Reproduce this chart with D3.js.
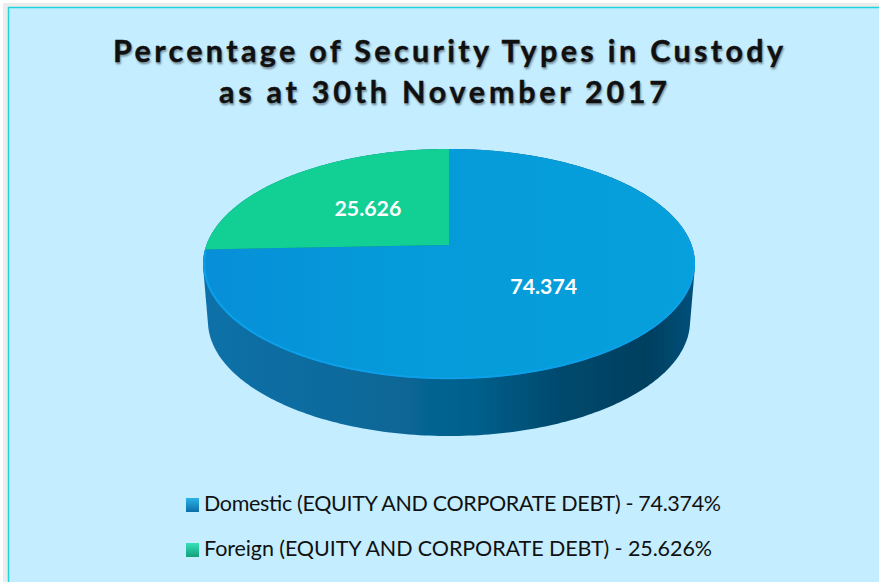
<!DOCTYPE html>
<html>

<head>
    <meta charset="utf-8">
    <title>Percentage of Security Types in Custody</title>
    <script src="https://d3js.org/d3.v7.min.js"></script>
    <style>
        html, body { margin: 0; padding: 0; background: #fff; overflow: hidden; }
        text { font-family: Lato, "Open Sans", sans-serif; }
    </style>
</head>

<body>
    <svg width="879" height="582"></svg>
    <script>
        // Data
        var titleLines = ["Percentage of Security Types in Custody", "as at 30th November 2017"];
        var categories = ["Domestic (EQUITY AND CORPORATE DEBT)", "Foreign (EQUITY AND CORPORATE DEBT)"];
        var values = [74.374, 25.626];
        var sliceColors = ["#059bd9", "#12cf93"];

        var svg = d3.select("svg");
        var defs = svg.append("defs");

        // Gradients
        function gradient(id, stops, vertical) {
            var g = defs.append("linearGradient").attr("id", id)
                .attr("x1", 0).attr("y1", 0)
                .attr("x2", vertical ? 0 : 1).attr("y2", vertical ? 1 : 0);
            stops.forEach(function (s) {
                g.append("stop").attr("offset", s[0]).attr("stop-color", s[1]);
            });
        }
        gradient("wall", [[0, "#0f70a8"], [0.3, "#0a6a9c"], [0.55, "#04608c"], [0.72, "#024a6e"], [0.9, "#023f5f"], [1, "#04507a"]]);
        gradient("top0", [[0, "#078fd8"], [0.4, "#059ad9"], [1, "#06a0dc"]]);
        gradient("key0", [[0, "#2bb4e8"], [1, "#0b6ea6"]], true);
        gradient("key1", [[0, "#35e0b8"], [1, "#12a07c"]], true);
        defs.append("filter").attr("id", "soft")
            .append("feGaussianBlur").attr("stdDeviation", 0.7);

        // Panel
        svg.append("rect").attr("x", 3).attr("y", 3).attr("width", 880).attr("height", 590).attr("fill", "#ececec");
        svg.append("rect").attr("x", 8.5).attr("y", 7.5).attr("width", 880).attr("height", 590)
            .attr("fill", "#c4edff").attr("stroke", "#22d3dd").attr("stroke-width", 1.5);

        // Title
        var titleWidths = [670, 448];
        svg.selectAll(".titolo")
            .data(titleLines)
            .enter()
            .append("text")
            .attr("class", "titolo")
            .attr("x", function (d, i) { return i == 0 ? 448 : 443; })
            .attr("y", function (d, i) { return 62 + i * 41; })
            .attr("text-anchor", "middle")
            .attr("font-size", 30.5)
            .attr("font-weight", 700)
            .attr("textLength", function (d, i) { return titleWidths[i]; })
            .attr("lengthAdjust", "spacing")
            .attr("fill", "#111")
            .attr("stroke", "#111")
            .attr("stroke-width", 0.4)
            .style("text-shadow", "1px 2px 2px rgba(0,0,0,0.35)")
            .text(function (d) { return d; });

        // Perspective disc: angle clockwise from 12 o'clock, r 0..1, level 0 top / 1 bottom
        var cx = 449, cy = 245, halfW = 242.6, halfH = 111.9, k = 0.165, depth = 57, shrink = 0.98;
        function project(a, r, level) {
            var u = r * Math.sin(a), v = r * Math.cos(a), w = 1 + k * v;
            var s = level ? shrink : 1;
            return [cx + s * halfW * u / w, cy - halfH * v / w + level * depth];
        }

        var pie = d3.pie().sort(null);
        var slices = pie(values);
        var line = d3.line().curve(d3.curveLinear);

        // Side wall is the outline of the top and bottom rings
        var ring = d3.range(0, 360, 1).map(function (d) { return d * Math.PI / 180; });
        var hull = d3.polygonHull(
            ring.map(function (a) { return project(a, 1, 0); })
                .concat(ring.map(function (a) { return project(a, 1, 1); }))
        );
        svg.append("path").attr("d", line(hull) + "Z").attr("fill", "url(#wall)").attr("filter", "url(#soft)");

        // Top face
        svg.selectAll(".fetta")
            .data(slices)
            .enter()
            .append("path")
            .attr("class", "fetta")
            .attr("fill", function (d, i) { return i == 0 ? "url(#top0)" : sliceColors[i]; })
            .attr("d", function (d) {
                var n = Math.ceil((d.endAngle - d.startAngle) * 60);
                var pts = [project(0, 0, 0)];
                d3.range(n + 1).forEach(function (j) {
                    pts.push(project(d.startAngle + (d.endAngle - d.startAngle) * j / n, 1, 0));
                });
                return line(pts) + "Z";
            });

        // Lighter bevel along the front rim
        var rim = d3.range(80, 268, 1).map(function (d) { return project(d * Math.PI / 180, 0.995, 0); });
        svg.append("path")
            .attr("d", line(rim))
            .attr("fill", "none")
            .attr("stroke", "#0a9fe8")
            .attr("stroke-width", 2)
            .attr("filter", "url(#soft)");

        // Data labels
        var labelR = [0.51, 0.49];
        svg.selectAll(".etichetta")
            .data(slices)
            .enter()
            .append("text")
            .attr("class", "etichetta")
            .attr("x", function (d, i) { return project((d.startAngle + d.endAngle) / 2, labelR[i], 0)[0]; })
            .attr("y", function (d, i) { return project((d.startAngle + d.endAngle) / 2, labelR[i], 0)[1]; })
            .attr("dy", "0.35em")
            .attr("text-anchor", "middle")
            .attr("font-size", 21.3)
            .attr("font-weight", 700)
            .attr("fill", "#fff")
            .text(function (d) { return d.value.toFixed(3); });

        // Legend
        var legendY = d3.scalePoint().domain(categories).range([505, 550]);
        var legendWidths = [517, 508];
        var legend = svg.selectAll(".voce")
            .data(categories)
            .enter()
            .append("g")
            .attr("class", "voce")
            .attr("transform", function (d) { return "translate(186," + legendY(d) + ")"; });
        legend.append("rect")
            .attr("y", -7).attr("width", 13).attr("height", 14)
            .attr("fill", function (d, i) { return "url(#key" + i + ")"; });
        legend.append("text")
            .attr("x", 18).attr("y", 6)
            .attr("font-size", 21.5)
            .attr("textLength", function (d, i) { return legendWidths[i]; })
            .attr("lengthAdjust", "spacing")
            .attr("fill", "#111")
            .text(function (d, i) { return d + " - " + values[i].toFixed(3) + "%"; });
    </script>
</body>

</html>
